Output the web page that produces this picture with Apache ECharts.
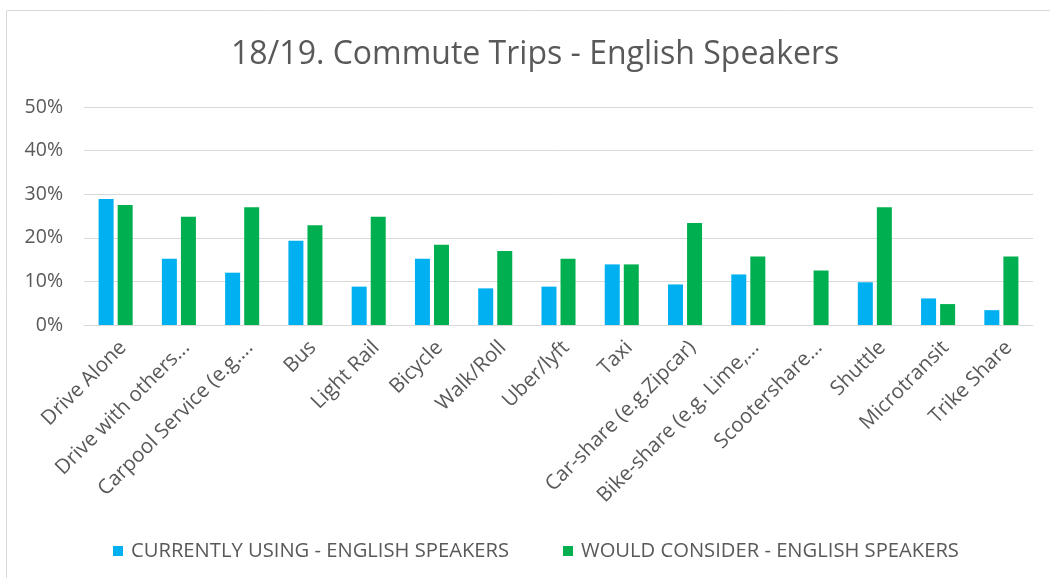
<!DOCTYPE html>
<html>
<head>
<meta charset="utf-8">
<script src="https://cdn.jsdelivr.net/npm/echarts@6/dist/echarts.min.js"></script>
<style>
html,body{margin:0;padding:0;background:#fff;}
#c{width:1050px;height:578px;}
</style>
</head>
<body>
<div id="c"></div>
<script>
const categories = ["Drive Alone","Drive with others...","Carpool Service (e.g....","Bus","Light Rail","Bicycle","Walk/Roll","Uber/lyft","Taxi","Car-share (e.g.Zipcar)","Bike-share (e.g. Lime,...","Scootershare...","Shuttle","Microtransit","Trike Share"];
const currentlyUsing = [28.9,15.2,12.0,19.3,8.8,15.2,8.4,8.8,13.9,9.3,11.6,0,9.8,6.1,3.4];
const wouldConsider = [27.5,24.8,27.0,22.9,24.8,18.4,17.0,15.2,13.9,23.4,15.7,12.5,27.0,4.8,15.7];
const yTicks = [0,10,20,30,40,50];

const FONT = "'Open Sans', 'Noto Sans', sans-serif";
const chart = echarts.init(document.getElementById('c'), null, {renderer:'canvas'});
chart.setOption({
  animation:false,
  backgroundColor:'#fff',
  graphic:[{type:'rect',shape:{x:6.5,y:10.5,width:1100,height:600},style:{fill:'none',stroke:'#d9d9d9',lineWidth:1},silent:true}],
  title:{text:'18/19. Commute Trips - English Speakers',left:226,top:34,
    textStyle:{fontFamily:FONT,fontSize:32,fontWeight:'normal',color:'#595959'}},
  legend:{top:536,left:108,itemWidth:10,itemHeight:10,itemGap:54,icon:'rect',
    textStyle:{fontFamily:FONT,fontSize:20.2,color:'#595959',padding:[0,0,0,3]},
    data:['CURRENTLY USING - ENGLISH SPEAKERS','WOULD CONSIDER - ENGLISH SPEAKERS']},
  grid:{left:84,right:17,top:107,bottom:253,containLabel:false},
  xAxis:{type:'category',data:categories,
    axisLine:{show:true,lineStyle:{color:'#d9d9d9'}},axisTick:{show:false},
    axisLabel:{rotate:45,interval:0,fontFamily:FONT,fontSize:20.5,color:'#595959',margin:12,verticalAlign:'top'}},
  yAxis:{type:'value',min:0,max:50,interval:10,
    axisLabel:{formatter:v=>yTicks.includes(v)?v+'%':'',fontFamily:FONT,fontSize:19.5,color:'#595959',margin:21},
    axisLine:{show:false},axisTick:{show:false},
    splitLine:{lineStyle:{color:'#d9d9d9',width:1}}},
  series:[
    {name:'CURRENTLY USING - ENGLISH SPEAKERS',type:'bar',data:currentlyUsing,barWidth:15,barGap:'27%',
      itemStyle:{color:'#00B0F0'}},
    {name:'WOULD CONSIDER - ENGLISH SPEAKERS',type:'bar',data:wouldConsider,barWidth:15,
      itemStyle:{color:'#00B050'}}
  ]
});
</script>
</body>
</html>
